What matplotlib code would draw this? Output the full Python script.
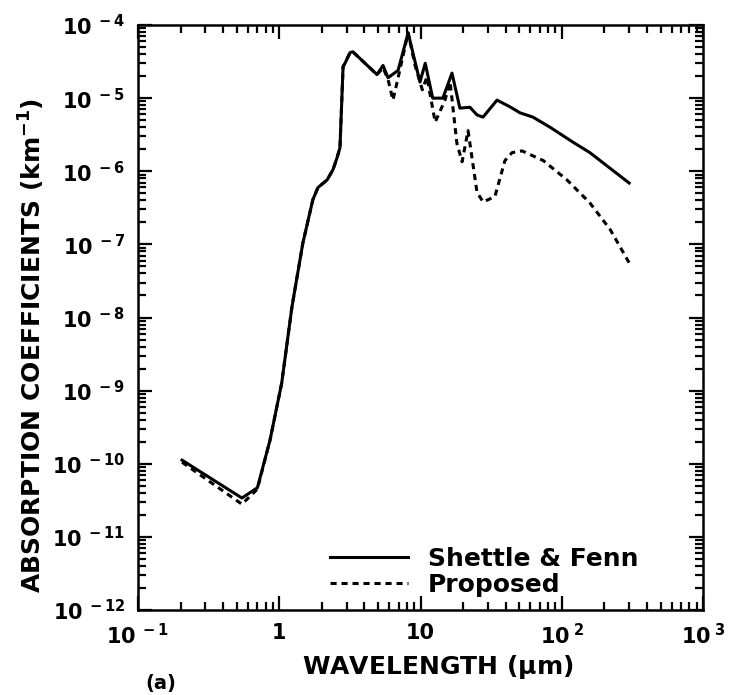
import numpy as np
import matplotlib
matplotlib.use("Agg")
import matplotlib.pyplot as plt
from matplotlib.ticker import LogLocator, FixedLocator, FixedFormatter, NullFormatter

plt.rcParams['font.family'] = ['DejaVu Sans']
plt.rcParams['font.weight'] = 'bold'
plt.rcParams['mathtext.default'] = 'bf'

# Shettle & Fenn absorption coefficients (km^-1) vs wavelength (um)
wl_sf = [0.205, 0.544, 0.70, 0.86, 1.04, 1.23, 1.47, 1.73, 1.88, 2.18, 2.40,
         2.57, 2.69, 2.83, 2.92, 3.17, 3.32, 4.92, 5.43, 5.89, 6.94, 8.17,
         9.91, 10.8, 12.2, 14.4, 16.7, 19.0, 22.4, 25.1, 27.7, 34.8, 43.0,
         50.6, 62.5, 82.6, 120.0, 158.0, 300.0]
abs_sf = [1.12e-10, 3.4e-11, 4.7e-11, 2.1e-10, 1.26e-9, 1.4e-8, 1.05e-7,
          4.1e-7, 6.0e-7, 7.6e-7, 1.05e-6, 1.55e-6, 2.1e-6, 2.7e-5, 3.0e-5,
          4.2e-5, 4.3e-5, 2.1e-5, 2.8e-5, 1.9e-5, 2.4e-5, 7.8e-5, 1.66e-5,
          3.0e-5, 1.0e-5, 1.0e-5, 2.2e-5, 7.3e-6, 7.5e-6, 5.9e-6, 5.5e-6,
          9.4e-6, 7.6e-6, 6.3e-6, 5.5e-6, 4.0e-6, 2.5e-6, 1.8e-6, 6.9e-7]

# proposed model
wl_pr = [0.205, 0.544, 0.70, 0.86, 1.04, 1.23, 1.47, 1.73, 1.88, 2.18, 2.40,
         2.57, 2.69, 2.83, 2.92, 3.17, 3.32, 4.92, 5.43, 5.89, 6.38, 6.94,
         8.17, 9.15, 10.3, 11.1, 12.7, 14.9, 16.2, 18.1, 19.7, 21.7, 25.1,
         27.7, 33.6, 39.6, 44.5, 52.3, 74.0, 109.0, 158.0, 220.0, 300.0]
abs_pr = [1.05e-10, 2.8e-11, 4.5e-11, 2.1e-10, 1.26e-9, 1.4e-8, 1.05e-7,
          4.1e-7, 6.0e-7, 7.6e-7, 1.05e-6, 1.55e-6, 2.1e-6, 2.7e-5, 3.0e-5,
          4.2e-5, 4.3e-5, 2.1e-5, 2.6e-5, 1.8e-5, 9.4e-6, 1.9e-5, 7.8e-5,
          2.8e-5, 1.3e-5, 1.95e-5, 4.7e-6, 9.4e-6, 1.66e-5, 2.4e-6, 1.35e-6,
          3.6e-6, 5.2e-7, 3.8e-7, 4.5e-7, 1.4e-6, 1.8e-6, 1.9e-6, 1.4e-6,
          7.6e-7, 3.7e-7, 1.6e-7, 5.6e-8]

x_ticks = [0.1, 1, 10, 100, 1000]
x_labels = [r'$10^{\;-1}$', '1', '10', r'$10^{\;2}$', r'$10^{\;3}$']
y_ticks = [10.0 ** e for e in range(-12, -3)]
y_labels = [r'$10^{\;%d}$' % e for e in range(-12, -3)]

fig = plt.figure(figsize=(7.36, 6.95), dpi=100)
ax = fig.add_axes([0.1875, 0.1223, 0.7677, 0.8417])

ax.plot(wl_sf, abs_sf, color='black', lw=2.2, label='Shettle & Fenn')
ax.plot(wl_pr, abs_pr, color='black', lw=2.2, ls=(0, (2, 1.6)), label='Proposed')

ax.set_xscale('log')
ax.set_yscale('log')
ax.set_xlim(0.1, 1000)
ax.set_ylim(1e-12, 1e-4)

ax.xaxis.set_major_locator(FixedLocator(x_ticks))
ax.xaxis.set_major_formatter(FixedFormatter(x_labels))
ax.yaxis.set_major_locator(FixedLocator(y_ticks))
ax.yaxis.set_major_formatter(FixedFormatter(y_labels))
for axis in (ax.xaxis, ax.yaxis):
    axis.set_minor_locator(LogLocator(base=10, subs=np.arange(2, 10), numticks=100))
    axis.set_minor_formatter(NullFormatter())

ax.tick_params(which='both', direction='in', top=True, right=True, width=1.6,
               labelsize=15, colors='black')
ax.tick_params(which='major', length=10, pad=9)
ax.tick_params(which='minor', length=6)
for s in ax.spines.values():
    s.set_linewidth(1.8)

fig.text(0.043, 1 - 345 / 695, r'ABSORPTION COEFFICIENTS (km$^{-1}$)',
         rotation=90, ha='center', va='center', fontsize=18)
fig.text(438 / 736, 1 - 667 / 695, r'WAVELENGTH ($\mu$m)',
         ha='center', va='center', fontsize=18)
fig.text(161 / 736, 0.003, '(a)', ha='center', va='bottom', fontsize=14)

ax.legend(loc='lower left', bbox_to_anchor=(0.34, 0.022), frameon=False,
          prop={'size': 18, 'weight': 'bold'}, handlelength=3.1,
          handletextpad=0.8, labelspacing=0.08, borderpad=0, borderaxespad=0)

fig.savefig('out.png', dpi=100)
